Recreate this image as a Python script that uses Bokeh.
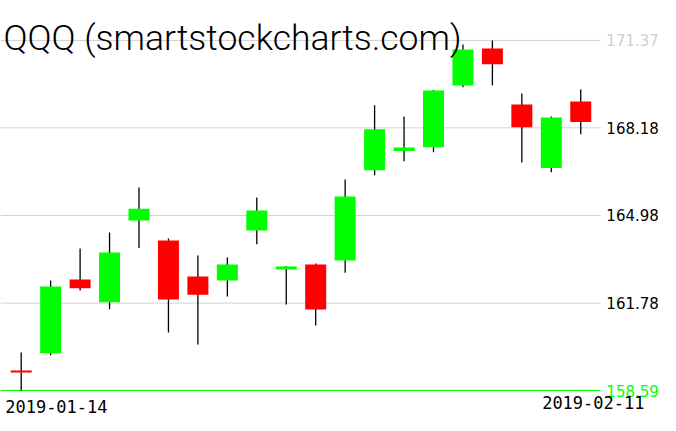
from bokeh.plotting import figure
from bokeh.models import Range1d
from bokeh.core.properties import value
from bokeh.embed import file_html
from bokeh.resources import INLINE

# ---- data ----
dates = ["2019-01-14", "2019-01-15", "2019-01-16", "2019-01-17", "2019-01-18",
         "2019-01-22", "2019-01-23", "2019-01-24", "2019-01-25", "2019-01-28",
         "2019-01-29", "2019-01-30", "2019-01-31", "2019-02-01", "2019-02-04",
         "2019-02-05", "2019-02-06", "2019-02-07", "2019-02-08", "2019-02-11"]
opens = [159.32, 159.95, 162.64, 161.81, 164.80, 164.07, 162.75, 162.61, 164.43, 163.01,
         163.19, 163.34, 166.63, 167.33, 167.47, 169.73, 171.08, 169.03, 166.71, 169.14]
closes = [159.25, 162.39, 162.32, 163.63, 165.23, 161.91, 162.09, 163.19, 165.16, 163.12,
          161.55, 165.67, 168.13, 167.46, 169.54, 171.04, 170.50, 168.20, 168.56, 168.39]
highs = [159.98, 162.61, 163.77, 164.36, 166.00, 164.14, 163.52, 163.45, 165.64, 163.14,
         163.23, 166.29, 169.00, 168.59, 169.56, 171.22, 171.37, 169.43, 168.59, 169.58]
lows = [158.59, 159.88, 162.24, 161.56, 163.79, 160.71, 160.27, 162.02, 163.93, 161.73,
        160.96, 162.89, 166.45, 166.96, 167.29, 169.66, 169.73, 166.91, 166.56, 167.95]

tick_values = [171.37, 168.18, 164.98, 161.78, 158.59]
tick_labels = ["171.37", "168.18", "164.98", "161.78", "158.59"]
title_text = "QQQ (smartstockcharts.com)"

# ---- layout ----
W, H = 676, 431
slot_px = 29.45
unit_px = 27.39
left_pad_px = 20.7
bottom_pad_px = 41.0

n = len(dates)
idx = list(range(n))
x_start = -left_pad_px / slot_px
x_end = x_start + W / slot_px
y_start = min(lows) - bottom_pad_px / unit_px
y_end = y_start + H / unit_px

p = figure(width=W, height=H, output_backend="svg", toolbar_location=None,
           x_range=Range1d(x_start, x_end), y_range=Range1d(y_start, y_end),
           x_axis_type=None, y_axis_type=None,
           min_border=0, min_border_left=0, min_border_right=0,
           min_border_top=0, min_border_bottom=0,
           outline_line_color=None, background_fill_color="white",
           border_fill_color="white")

GREEN = "#00ff00"
RED = "#ff0000"
GRID = "#d3d3d3"

# horizontal grid lines
grid_colors = [GRID, GRID, GRID, GRID, GREEN]
grid_end = (n - 1) + 0.67
p.segment(x0=[x_start] * len(tick_values), x1=[grid_end] * len(tick_values),
          y0=tick_values, y1=tick_values, line_color=grid_colors, line_width=1)

# wicks
p.segment(x0=idx, x1=idx, y0=highs, y1=lows, line_color="black", line_width=1.3)

# bodies
tops = [max(o, c) for o, c in zip(opens, closes)]
bottoms = [min(o, c) for o, c in zip(opens, closes)]
colors = [GREEN if c >= o else RED for o, c in zip(opens, closes)]
p.vbar(x=idx, width=0.713, top=tops, bottom=bottoms, fill_color=colors, line_color=None)

# price labels at right
label_colors = ["#cfcfcf", "black", "black", "black", GREEN]
p.text(x=[(n - 1) + 0.87] * len(tick_values), y=tick_values, text=tick_labels,
       text_color=label_colors, text_font=value("DejaVu Sans"), text_font_size="15px",
       text_baseline="alphabetic", text_align="left")

# title
p.text(x=[x_start], y=[y_end], text=[title_text], y_offset=[37.5], x_offset=[3],
       text_color="black", text_font=value("Roboto Light"), text_font_size="35.5px",
       text_baseline="alphabetic", text_align="left")

# date labels
p.text(x=[0, n - 1], y=[min(lows), min(lows)], text=[dates[0], dates[-1]],
       x_offset=[-16, -38.6], y_offset=[16, 11.7],
       text_color="black", text_font=value("DejaVu Sans Mono"), text_font_size="17px",
       text_baseline="alphabetic", text_align="left")

open("out.html", "w").write(file_html(p, INLINE))
